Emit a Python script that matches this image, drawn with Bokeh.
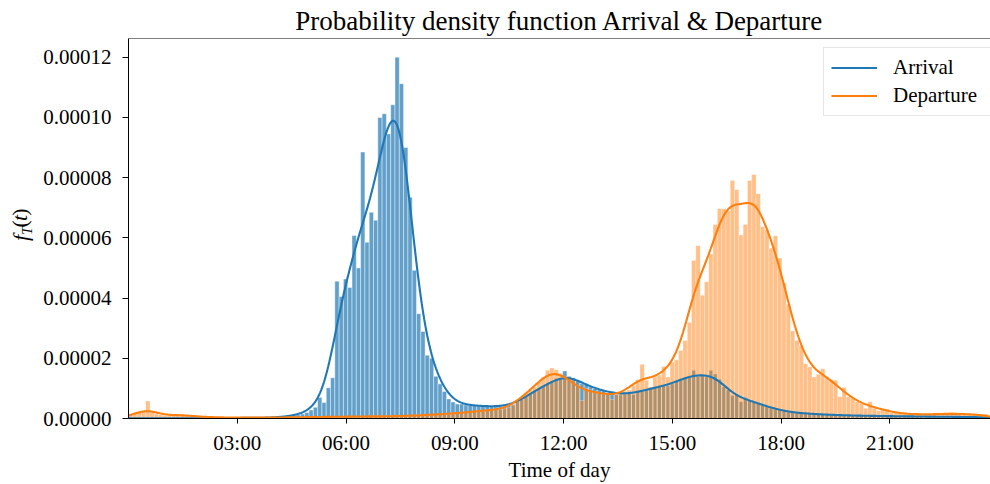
import numpy as np
from bokeh.plotting import figure
from bokeh.layouts import row
from bokeh.models import Span, FixedTicker, Legend, LegendItem, NumeralTickFormatter
from bokeh.core.properties import value
from bokeh.embed import file_html
from bokeh.resources import INLINE

# ---------------- data (density, in units of 1e-5 per second) ----------------
# 200 histogram bins spanning the day (seconds since midnight)
arrival = [
    0.01, 0.01, 0.01, 0.01, 0.01, 0.01, 0.01, 0.01, 0.01, 0.01,
    0.01, 0.01, 0.01, 0.01, 0.01, 0.01, 0.01, 0.01, 0.01, 0.01,
    0.01, 0.01, 0.01, 0.02, 0.02, 0.02, 0.02, 0.02, 0.02, 0.02,
    0.02, 0.02, 0.03, 0.03, 0.04, 0.05, 0.06, 0.08, 0.10, 0.12,
    0.15, 0.20, 0.28, 0.37, 0.70, 0.53, 1.02, 1.35, 4.56, 4.05,
    4.63, 4.35, 6.08, 5.00, 8.85, 5.85, 6.85, 6.58, 10.00, 10.12,
    9.45, 10.42, 12.00, 11.12, 9.00, 7.35, 4.92, 3.48, 2.89, 2.10,
    2.00, 1.40, 1.15, 0.90, 0.65, 0.55, 0.48, 0.48, 0.45, 0.44,
    0.43, 0.42, 0.41, 0.40, 0.40, 0.39, 0.40, 0.41, 0.43, 0.47,
    0.55, 0.63, 0.72, 0.82, 0.92, 1.00, 1.08, 1.15, 1.22, 1.33,
    1.30, 1.58, 1.40, 1.35, 1.25, 1.16, 1.15, 1.05, 1.00, 0.95,
    0.92, 0.85, 0.90, 0.80, 0.78, 0.80, 0.85, 0.80, 0.90, 0.92,
    0.95, 1.00, 1.02, 1.05, 1.10, 1.10, 1.15, 1.25, 1.28, 1.35,
    1.38, 1.60, 1.40, 1.42, 1.38, 1.60, 1.48, 1.30, 1.05, 0.95,
    0.76, 0.80, 0.56, 0.70, 0.60, 0.55, 0.50, 0.45, 0.40, 0.36,
    0.32, 0.28, 0.25, 0.22, 0.20, 0.18, 0.18, 0.17, 0.16, 0.15,
    0.14, 0.13, 0.13, 0.12, 0.12, 0.11, 0.11, 0.10, 0.10, 0.10,
    0.09, 0.09, 0.09, 0.09, 0.08, 0.08, 0.08, 0.08, 0.08, 0.07,
    0.07, 0.07, 0.07, 0.07, 0.07, 0.06, 0.06, 0.06, 0.06, 0.06,
    0.06, 0.06, 0.05, 0.05, 0.05, 0.05, 0.05, 0.05, 0.05, 0.05,
]
departure = [
    0.15, 0.18, 0.20, 0.22, 0.58, 0.20, 0.15, 0.12, 0.10, 0.10,
    0.10, 0.12, 0.13, 0.12, 0.08, 0.07, 0.06, 0.05, 0.05, 0.04,
    0.04, 0.04, 0.03, 0.03, 0.03, 0.03, 0.03, 0.03, 0.03, 0.03,
    0.03, 0.03, 0.03, 0.03, 0.03, 0.03, 0.04, 0.04, 0.04, 0.04,
    0.04, 0.04, 0.05, 0.05, 0.05, 0.05, 0.05, 0.06, 0.06, 0.06,
    0.06, 0.06, 0.06, 0.07, 0.07, 0.07, 0.07, 0.07, 0.07, 0.07,
    0.07, 0.08, 0.08, 0.08, 0.09, 0.09, 0.10, 0.10, 0.11, 0.12,
    0.13, 0.13, 0.14, 0.15, 0.16, 0.17, 0.18, 0.19, 0.20, 0.22,
    0.24, 0.25, 0.26, 0.27, 0.28, 0.29, 0.30, 0.32, 0.36, 0.45,
    0.60, 0.70, 0.85, 0.95, 1.05, 1.20, 1.38, 1.60, 1.68, 1.62,
    1.50, 1.35, 1.30, 1.25, 1.10, 0.60, 1.00, 0.95, 0.90, 0.85,
    0.82, 0.80, 0.63, 0.80, 0.85, 0.90, 0.95, 1.10, 1.29, 1.80,
    1.27, 1.05, 1.38, 1.44, 1.73, 1.38, 1.87, 1.95, 2.26, 2.59,
    3.19, 5.25, 5.74, 4.09, 4.54, 5.46, 6.44, 6.97, 6.97, 6.90,
    7.90, 7.60, 6.09, 6.44, 7.90, 8.10, 7.46, 6.37, 6.26, 5.65,
    6.07, 5.33, 4.50, 3.79, 2.91, 2.59, 2.42, 1.82, 1.71, 1.38,
    1.47, 1.65, 1.38, 1.29, 1.27, 0.72, 1.03, 0.72, 0.67, 0.56,
    0.50, 0.34, 0.56, 0.34, 0.26, 0.31, 0.31, 0.20, 0.18, 0.17,
    0.15, 0.14, 0.15, 0.13, 0.14, 0.15, 0.14, 0.13, 0.15, 0.14,
    0.16, 0.20, 0.15, 0.14, 0.13, 0.14, 0.15, 0.13, 0.14, 0.15,
]
series_names = ["Arrival", "Departure"]
tick_hours = [3, 6, 9, 12, 15, 18, 21]
tick_labels = ["03:00", "06:00", "09:00", "12:00", "15:00", "18:00", "21:00"]
y_ticks = [0.0, 0.00002, 0.00004, 0.00006, 0.00008, 0.00010, 0.00012]
bin_start = 0.0        # seconds
bin_end = 85360.0      # seconds (last observed time)

# ---------------- layout constants ----------------
X_END = 85590.0
Y_END = 0.0001262
LAB_W = 40
FONT = "Liberation Serif"
BLUE = "#1f77b4"
ORANGE = "#ff7f0e"

n = len(arrival)
edges = np.linspace(bin_start, bin_end, n + 1)
w = edges[1] - edges[0]
centers = 0.5 * (edges[:-1] + edges[1:])
arr = np.array(arrival) * 1e-5
dep = np.array(departure) * 1e-5


def kde(h, sigma_bins=2.35):
    xs = np.linspace(0, X_END, 1400)
    s = sigma_bins * w
    k = np.exp(-0.5 * ((xs[:, None] - centers[None, :]) / s) ** 2) / (s * np.sqrt(2 * np.pi))
    return xs, (k * (h * w)[None, :]).sum(axis=1)


p = figure(width=990 - LAB_W, height=484, x_range=(0, X_END), y_range=(0, Y_END),
           output_backend="svg", toolbar_location=None,
           min_border_left=121 - LAB_W, min_border_right=0, min_border_top=38, min_border_bottom=62)

p.quad(left=edges[:-1], right=edges[1:], top=arr, bottom=0,
       fill_color=BLUE, fill_alpha=0.7, line_color="white", line_alpha=0.7, line_width=0.6)
p.quad(left=edges[:-1], right=edges[1:], top=dep, bottom=0,
       fill_color=ORANGE, fill_alpha=0.5, line_color="white", line_alpha=0.5, line_width=0.6)

xa, ya = kde(arr)
xd, yd = kde(dep)
l1 = p.line(xa, ya, line_color=BLUE, line_width=2.1)
l2 = p.line(xd, yd, line_color=ORANGE, line_width=2.1)

legend = Legend(items=[LegendItem(label=series_names[0], renderers=[l1]),
                       LegendItem(label=series_names[1], renderers=[l2])],
                location=(695, 302), margin=0, padding=7, spacing=3,
                glyph_width=46, glyph_height=21, label_height=21, label_width=96, label_standoff=16,
                label_text_font=FONT, label_text_font_size="21px", label_text_color="black",
                border_line_color="#cccccc", border_line_width=1,
                background_fill_color="white", background_fill_alpha=0.8)
p.add_layout(legend)

p.title.text = "Probability density function Arrival & Departure"
p.title.align = "center"
p.title.text_font = FONT
p.title.text_font_size = "27px"
p.title.text_font_style = "normal"
p.title.text_color = "black"
p.title.standoff = 5

p.xgrid.visible = False
p.ygrid.visible = False
p.outline_line_color = None
p.add_layout(Span(location=Y_END, dimension="width", line_color="black", line_width=1))

p.xaxis.ticker = FixedTicker(ticks=[h * 3600 for h in tick_hours])
p.xaxis.major_label_overrides = {h * 3600: lab for h, lab in zip(tick_hours, tick_labels)}
p.yaxis.ticker = FixedTicker(ticks=y_ticks)
p.yaxis.formatter = NumeralTickFormatter(format="0.00000")
for ax in (p.xaxis, p.yaxis):
    ax.minor_tick_line_color = None
    ax.major_tick_in = 0
    ax.axis_line_color = "black"
    ax.major_tick_line_color = "black"
    ax.major_label_text_font = FONT
    ax.major_label_text_font_size = "21px"
    ax.major_label_text_color = "black"
p.xaxis.major_tick_out = 5
p.yaxis.major_tick_out = 6
p.xaxis.major_label_standoff = 7
p.yaxis.major_label_standoff = 11
p.xaxis.axis_label = "Time of day"
p.xaxis.axis_label_text_font = FONT
p.xaxis.axis_label_text_font_size = "21px"
p.xaxis.axis_label_text_font_style = "normal"
p.xaxis.axis_label_text_color = "black"
p.xaxis.axis_label_standoff = 0

# narrow side panel carrying the rotated y-axis label  f_T(t)
lab = figure(width=LAB_W, height=484, x_range=(0, LAB_W), y_range=(0, 484),
             output_backend="svg", toolbar_location=None, x_axis_type=None, y_axis_type=None,
             min_border_left=0, min_border_right=0, min_border_top=0, min_border_bottom=0)
lab.outline_line_color = None
lab.xgrid.visible = False
lab.ygrid.visible = False
for txt, X, Y, size, style in [("f", 20, 254, "22px", "italic"), ("T", 26, 245, "15px", "italic"),
                               ("(", 19, 236, "22px", "normal"), ("t", 19, 228.5, "22px", "italic"),
                               (")", 19, 221, "22px", "normal")]:
    lab.text(x=[X], y=[484 - Y], text=[txt], angle=np.pi / 2,
             text_align="center", text_baseline="middle",
             text_font=value(FONT), text_font_size=size, text_font_style=style, text_color="black")

layout = row(lab, p, spacing=0)
open("out.html", "w").write(file_html(layout, INLINE))
